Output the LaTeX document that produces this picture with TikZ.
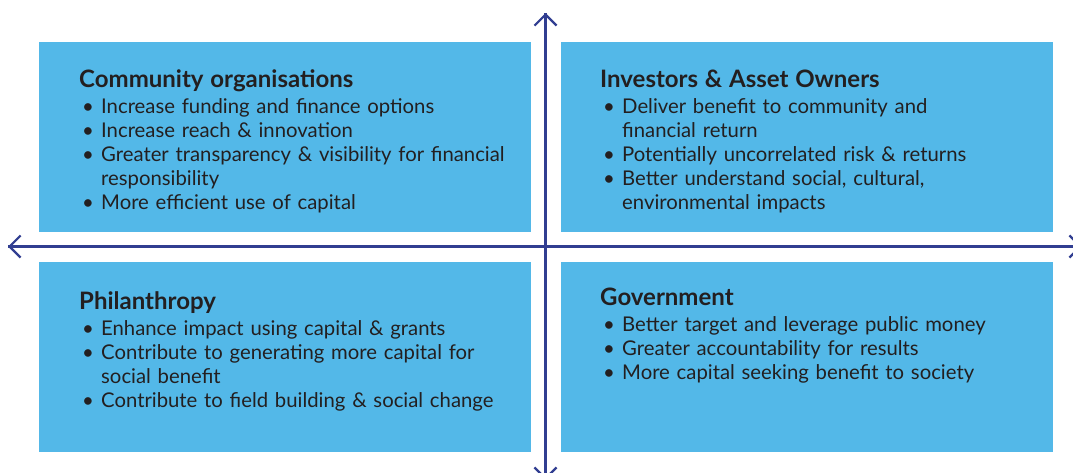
\documentclass[tikz,border=0pt]{standalone}
\usepackage{fontspec}
\setmainfont{Lato}
\usetikzlibrary{arrows.meta}
\definecolor{quadblue}{RGB}{83,184,232}
\definecolor{axisblue}{RGB}{49,62,145}
\definecolor{quadink}{RGB}{35,31,32}
\tikzset{
    quadfill/.style={fill=quadblue,draw=none},
    axis/.style={axisblue,line width=2.5pt,-{Straight Barb[length=11pt,width=22pt,line width=2.2pt]}},
    quadtext/.style={anchor=base west,inner sep=0pt,text width=470pt,align=left,text=quadink,
        font=\fontsize{20.3}{24}\selectfont}
}
\newcommand{\quadtitle}[1]{{\bfseries\fontsize{24}{24}\selectfont #1\par}\vspace{2pt}}
\newcommand{\quaditem}[1]{\par{\noindent\hangindent=22pt\hangafter=1\hspace*{3pt}\makebox[19pt][l]{\textbullet}#1\par}}

\begin{document}
\begin{tikzpicture}[x=1pt,y=-1pt]
\useasboundingbox (0,0) rectangle (1073,472);
\foreach \x/\y in {39/42,561/42,39/262,561/262}
	\fill[quadfill](\x,\y) rectangle ++(492,190);

\coordinate (axtop) at (545.5,13);
\coordinate (axbottom) at (545.5,480);
\coordinate (axleft) at (8,246.5);
\coordinate (axright) at (1082,246.5);
\draw[axis](axbottom)--(axtop);
\draw[axis](axtop)--(axbottom);
\draw[axis](axright)--(axleft);
\draw[axis](axleft)--(axright);

\node[quadtext](community) at (79,87){\quadtitle{Community organisations}
	\quaditem{Increase funding and finance options}
	\quaditem{Increase reach \& innovation}
	\quaditem{Greater transparency \& visibility for financial\newline responsibility}
	\quaditem{More efficient use of capital}};
\node[quadtext](investors) at (600,87){\quadtitle{Investors \& Asset Owners}
	\quaditem{Deliver benefit to community and\newline financial return}
	\quaditem{Potentially uncorrelated risk \& returns}
	\quaditem{Better understand social, cultural,\newline environmental impacts}};
\node[quadtext](philanthropy) at (79,309){\quadtitle{Philanthropy}
	\quaditem{Enhance impact using capital \& grants}
	\quaditem{Contribute to generating more capital for\newline social benefit}
	\quaditem{Contribute to field building \& social change}};
\node[quadtext](government) at (600,305){\quadtitle{Government}
	\quaditem{Better target and leverage public money}
	\quaditem{Greater accountability for results}
	\quaditem{More capital seeking benefit to society}};
\end{tikzpicture}
\end{document}
